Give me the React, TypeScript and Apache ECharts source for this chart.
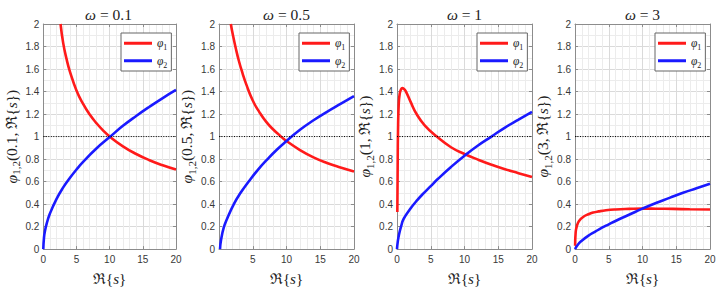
import React, { useEffect, useRef } from 'react';
import * as echarts from 'echarts';

// ---------- data ----------
const omegaLabels = ['0.1', '0.5', '1', '3'];

const phi1_w01 = [[2.6, 2.0], [3, 1.83], [3.5, 1.69], [4, 1.58], [5, 1.41], [6, 1.29], [7, 1.195], [8, 1.12], [9, 1.055], [10, 1.0], [12, 0.913], [14, 0.845], [16, 0.79], [18, 0.745], [20, 0.707]];
const phi2_w01 = [[0, 0], [0.1, 0.1], [0.25, 0.16], [0.5, 0.224], [1, 0.316], [2, 0.447], [3, 0.548], [4, 0.632], [5, 0.707], [6, 0.775], [8, 0.894], [10, 0.995], [12, 1.095], [14, 1.183], [16, 1.265], [18, 1.342], [20, 1.414]];

const phi1_w05 = [[1.75, 2.0], [2, 1.92], [2.5, 1.78], [3, 1.66], [3.5, 1.56], [4, 1.47], [5, 1.32], [6, 1.215], [7, 1.13], [8, 1.065], [9, 1.01], [10, 0.96], [12, 0.88], [14, 0.815], [16, 0.765], [18, 0.725], [20, 0.69]];
const phi2_w05 = [[0.15, 0.0], [0.3, 0.08], [0.7, 0.19], [1.2, 0.27], [2.2, 0.4], [3.2, 0.5], [4.4, 0.6], [5.7, 0.7], [7.2, 0.8], [8.6, 0.885], [10, 0.96], [12, 1.06], [14, 1.145], [16, 1.22], [18, 1.29], [20, 1.36]];

const phi1_w1 = [[0.05, 0.33], [0.1, 0.75], [0.15, 1.05], [0.25, 1.28], [0.4, 1.38], [0.6, 1.42], [0.8, 1.43], [1.1, 1.42], [1.4, 1.39], [2, 1.31], [2.9, 1.2], [4.1, 1.1], [5.9, 1.0], [8, 0.905], [10, 0.845], [12, 0.795], [14, 0.75], [16, 0.71], [18, 0.675], [20, 0.64]];
const phi2_w1 = [[0, 0], [0.1, 0.06], [0.3, 0.13], [0.6, 0.2], [1, 0.27], [2, 0.36], [3, 0.435], [4, 0.5], [5, 0.56], [6, 0.62], [8, 0.73], [10, 0.83], [12, 0.92], [14, 1.0], [16, 1.08], [18, 1.15], [20, 1.22]];

const phi1_w3 = [[0.02, 0.03], [0.1, 0.15], [0.3, 0.21], [0.6, 0.25], [1.2, 0.285], [2, 0.31], [2.7, 0.325], [3.5, 0.335], [4.6, 0.345], [6, 0.352], [8, 0.357], [10, 0.36], [12, 0.359], [14.5, 0.357], [17, 0.354], [20, 0.352]];
const phi2_w3 = [[0, 0], [0.5, 0.045], [1, 0.075], [2, 0.12], [3, 0.155], [4, 0.19], [5, 0.22], [6, 0.25], [8, 0.305], [10, 0.36], [12, 0.41], [14, 0.455], [16, 0.5], [18, 0.54], [20, 0.58]];

const phi1Data = [phi1_w01, phi1_w05, phi1_w1, phi1_w3];
const phi2Data = [phi2_w01, phi2_w05, phi2_w1, phi2_w3];
const refLine = [[0, 1], [20, 1]];

const xRange = [0, 20];
const xStep = 5;
const yRange = [0, 2];
const yStep = 0.2;

// ---------- layout / style ----------
const GRID_LEFTS = [41, 219, 397, 575];
const GRID_TOP = 24;
const GRID_W = 135;
const GRID_H = 234;
const SERIF = '"Liberation Serif", "DejaVu Serif", serif';
const SANS = '"Liberation Sans", Arial, sans-serif';
const BOX = '#8c8c8c';
const LABEL = '#383838';
const RED = '#ff1a1a';
const BLUE = '#1a1aff';

const mathRich = (size: number) => ({
  v: { fontFamily: SERIF, fontStyle: 'italic', fontSize: size, color: '#222', lineHeight: size + 5 },
  i: { fontFamily: SERIF, fontStyle: 'italic', fontSize: size, color: '#222', lineHeight: size + 5 },
  s: { fontFamily: SERIF, fontSize: Math.round(size * 0.7), color: '#222', lineHeight: Math.round(size * 0.7), verticalAlign: 'bottom' },
});

export default function App() {
  const ref = useRef<HTMLDivElement>(null);
  useEffect(() => {
    if (!ref.current) return;
    const chart = echarts.init(ref.current, null, { renderer: 'svg' });

    const grids: any[] = [];
    const xAxes: any[] = [];
    const yAxes: any[] = [];
    const series: any[] = [];
    const legends: any[] = [];
    const graphics: any[] = [];

    GRID_LEFTS.forEach((left, i) => {
      grids.push({ left, top: GRID_TOP, width: GRID_W, height: GRID_H, containLabel: false });
      const common = {
        gridIndex: i,
        type: 'value',
        axisLine: { show: true, onZero: false, lineStyle: { color: BOX, width: 1 } },
        axisTick: { show: true, inside: true, length: 3, lineStyle: { color: BOX } },
      };
      xAxes.push({
        ...common,
        min: xRange[0], max: xRange[1], interval: xStep,
        position: 'bottom',
        axisLabel: { color: LABEL, fontSize: 10, fontFamily: SANS, margin: 5, showMinLabel: i !== 1 },
        splitLine: { show: true, lineStyle: { color: '#dadada', width: 1 } },
        minorTick: { show: false, splitNumber: 5 },
        minorSplitLine: { show: true, lineStyle: { color: '#ececec', width: 1 } },
        name: 'ℜ{{i|s}}',
        nameLocation: 'middle',
        nameGap: 18,
        nameTextStyle: { fontFamily: SERIF, fontSize: 15, color: '#222', lineHeight: 20, rich: mathRich(15) },
      });
      xAxes.push({
        ...common,
        min: xRange[0], max: xRange[1], interval: xStep,
        position: 'top',
        axisLabel: { show: false },
        splitLine: { show: false },
      });
      yAxes.push({
        ...common,
        min: yRange[0], max: yRange[1], interval: yStep,
        position: 'left',
        axisLabel: { color: LABEL, fontSize: 10, fontFamily: SANS, margin: 4 },
        splitLine: { show: true, lineStyle: { color: '#dadada', width: 1 } },
        minorTick: { show: false, splitNumber: 2 },
        minorSplitLine: { show: true, lineStyle: { color: '#ececec', width: 1 } },
        name: '{v|φ}{s|1,2}(' + omegaLabels[i] + ', ℜ{{i|s}})',
        nameLocation: 'middle',
        nameRotate: 90,
        nameGap: 21,
        nameTextStyle: { fontFamily: SERIF, fontSize: 15.5, color: '#222', lineHeight: 20, rich: mathRich(15.5) },
      });
      yAxes.push({
        ...common,
        min: yRange[0], max: yRange[1], interval: yStep,
        position: 'right',
        axisLabel: { show: false },
        splitLine: { show: false },
      });

      series.push({
        type: 'line', name: 'φ1', xAxisIndex: 2 * i, yAxisIndex: 2 * i,
        data: phi1Data[i], symbol: 'none', showSymbol: false, smooth: 0.5, clip: true,
        lineStyle: { color: RED, width: 2.6 }, itemStyle: { color: RED }, z: 3,
      });
      series.push({
        type: 'line', name: 'φ2', xAxisIndex: 2 * i, yAxisIndex: 2 * i,
        data: phi2Data[i], symbol: 'none', showSymbol: false, smooth: 0.5, clip: true,
        lineStyle: { color: BLUE, width: 2.6 }, itemStyle: { color: BLUE }, z: 3,
      });
      series.push({
        type: 'line', name: 'ref', xAxisIndex: 2 * i, yAxisIndex: 2 * i,
        data: refLine, symbol: 'none', showSymbol: false, silent: true,
        lineStyle: { color: '#000', width: 1, type: [1, 1.5] }, z: 4,
      });

      legends.push({
        left: left + 80, top: 33, orient: 'vertical',
        data: ['φ1', 'φ2'], icon: 'rect', itemWidth: 28, itemHeight: 3, itemGap: 1,
        padding: [2, 4, 2, 3], borderColor: '#666', borderWidth: 1, backgroundColor: '#fff',
        selectedMode: false,
        formatter: (name: string) => '{v|φ}{s|' + name.slice(1) + '}',
        textStyle: { fontFamily: SERIF, fontSize: 11.5, color: '#222', lineHeight: 13, rich: mathRich(11.5) },
      });

      graphics.push({
        type: 'text',
        x: left + GRID_W / 2,
        y: 14,
        style: {
          text: '{v|ω} = ' + omegaLabels[i],
          align: 'center',
          verticalAlign: 'middle',
          fontFamily: SERIF,
          fontSize: 15.5,
          fill: '#222',
          rich: mathRich(15.5),
        },
      });
    });

    chart.setOption({
      animation: false,
      backgroundColor: '#fff',
      grid: grids,
      xAxis: xAxes,
      yAxis: yAxes,
      series,
      legend: legends,
      graphic: graphics,
    });
    return () => chart.dispose();
  }, []);

  return <div ref={ref} style={{ position: 'absolute', left: 0, top: 0, width: 721, height: 294 }} />;
}
